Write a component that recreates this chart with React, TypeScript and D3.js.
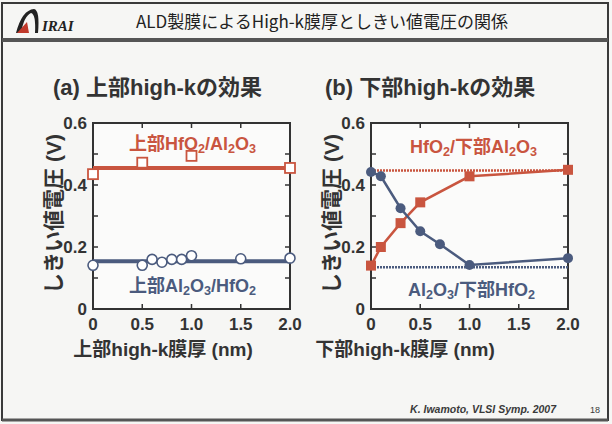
import React, { useEffect, useRef } from 'react';
import * as d3 from 'd3';

// (a) top high-k
const aRedX = [0, 0.5, 1.0, 2.0];
const aRedY = [0.435, 0.472, 0.494, 0.455];
const aRedFit = 0.455;
const aBlueX = [0, 0.5, 0.6, 0.7, 0.8, 0.9, 1.0, 1.5, 2.0];
const aBlueY = [0.141, 0.141, 0.16, 0.151, 0.16, 0.16, 0.172, 0.162, 0.164];
const aBlueFit = 0.154;

// (b) bottom high-k
const bRedX = [0, 0.1, 0.3, 0.5, 1.0, 2.0];
const bRedY = [0.14, 0.2, 0.277, 0.344, 0.428, 0.449];
const bRedRef = 0.447;
const bBlueX = [0, 0.1, 0.3, 0.5, 0.7, 1.0, 2.0];
const bBlueY = [0.442, 0.428, 0.325, 0.251, 0.209, 0.142, 0.164];
const bBlueRef = 0.135;

const yTicks = [0, 0.2, 0.4, 0.6];
const yTickLabels = ['0', '0.2', '0.4', '0.6'];
const xTicks = [0, 0.5, 1.0, 1.5, 2.0];
const xTickLabels = ['0', '0.5', '1.0', '1.5', '2.0'];

const RED = '#c9553f';
const BLUE = '#4b5b7e';
const FONT = '"Liberation Sans", Arial, "Noto Sans CJK JP", sans-serif';

type Part = { t: string; sub?: boolean };

export default function App() {
  const svgRef = useRef<SVGSVGElement>(null);

  useEffect(() => {
    const svg = d3.select(svgRef.current);
    svg.selectAll('*').remove();

    // slide background and frame
    svg.append('rect').attr('x', 0).attr('y', 0).attr('width', 612).attr('height', 424).attr('fill', '#f6f6f4');
    svg.append('rect').attr('x', 2).attr('y', 3).attr('width', 606).attr('height', 417)
      .attr('fill', 'none').attr('stroke', '#3a3a3a').attr('stroke-width', 2);
    svg.append('rect').attr('x', 2).attr('y', 38).attr('width', 606).attr('height', 4).attr('fill', '#555');
    svg.append('line').attr('x1', 2).attr('x2', 608).attr('y1', 420).attr('y2', 420)
      .attr('stroke', '#555').attr('stroke-width', 3);

    // logo
    svg.append('path').attr('d', 'M16,33 Q22,10 34,9 Q40,10 38,33 L35,33 Q36,14 31,13 Q24,16 21,33 Z').attr('fill', '#222');
    svg.append('path').attr('d', 'M17,33 L27,22 L29,33 Z').attr('fill', '#c0392b');
    svg.append('text').attr('x', 42).attr('y', 31).attr('font-family', '"Liberation Serif", serif')
      .attr('font-style', 'italic').attr('font-weight', 'bold').attr('font-size', 15).attr('fill', '#222').text('IRAI');

    svg.append('text').attr('x', 322).attr('y', 28).attr('text-anchor', 'middle')
      .attr('font-family', '"Noto Sans CJK JP", sans-serif').attr('font-size', 17).attr('fill', '#222')
      .text('ALD製膜によるHigh-k膜厚としきい値電圧の関係');

    const rich = (g: any, x: number, y: number, parts: Part[], color: string, size: number, anchor = 'start') => {
      const t = g.append('text').attr('x', x).attr('y', y).attr('font-family', FONT).attr('font-weight', 'bold')
        .attr('font-size', size).attr('fill', color).attr('text-anchor', anchor);
      parts.forEach(p => {
        const s = t.append('tspan').text(p.t);
        if (p.sub) s.attr('font-size', size * 0.7).attr('baseline-shift', '-25%');
      });
      return t;
    };

    const panel = (x0: number, x1: number, opts: any) => {
      const x = d3.scaleLinear().domain([0, 2]).range([x0, x1]);
      const y = d3.scaleLinear().domain([0, 0.6]).range([309, 123]);
      const g = svg.append('g');
      g.append('rect').attr('x', x0).attr('y', 123).attr('width', x1 - x0).attr('height', 186)
        .attr('fill', '#fbfbfa').attr('stroke', '#333').attr('stroke-width', 2);

      // ticks inward
      d3.range(0.1, 0.6, 0.1).forEach(v => {
        g.append('line').attr('x1', x0).attr('x2', x0 + 5).attr('y1', y(v)).attr('y2', y(v)).attr('stroke', '#333').attr('stroke-width', 1.5);
        g.append('line').attr('x1', x1).attr('x2', x1 - 5).attr('y1', y(v)).attr('y2', y(v)).attr('stroke', '#333').attr('stroke-width', 1.5);
      });
      [0.5, 1.0, 1.5].forEach(v => {
        g.append('line').attr('x1', x(v)).attr('x2', x(v)).attr('y1', 309).attr('y2', 304).attr('stroke', '#333').attr('stroke-width', 1.5);
        g.append('line').attr('x1', x(v)).attr('x2', x(v)).attr('y1', 123).attr('y2', 128).attr('stroke', '#333').attr('stroke-width', 1.5);
      });

      yTicks.forEach((v, i) => {
        g.append('text').attr('x', x0 - 6).attr('y', y(v) + 6).attr('text-anchor', 'end')
          .attr('font-family', FONT).attr('font-weight', 'bold').attr('font-size', 17).attr('fill', '#333')
          .text(yTickLabels[i]);
      });
      xTicks.forEach((v, i) => {
        g.append('text').attr('x', x(v)).attr('y', 330).attr('text-anchor', 'middle')
          .attr('font-family', FONT).attr('font-weight', 'bold').attr('font-size', 17).attr('fill', '#333')
          .text(xTickLabels[i]);
      });

      g.append('text').attr('transform', `translate(${x0 - 32},214) rotate(-90)`).attr('text-anchor', 'middle')
        .attr('font-family', FONT).attr('font-weight', 'bold').attr('font-size', 21).attr('fill', '#333')
        .text('しきい値電圧 (V)');
      g.append('text').attr('x', opts.xTitleX).attr('y', 356).attr('text-anchor', 'middle')
        .attr('font-family', FONT).attr('font-weight', 'bold').attr('font-size', 19).attr('fill', '#333')
        .text(opts.xTitle);
      g.append('text').attr('x', opts.titleX).attr('y', 95)
        .attr('font-family', FONT).attr('font-weight', 'bold').attr('font-size', 22).attr('fill', '#333')
        .text(opts.title);
      return { g, x, y };
    };

    // ---- panel (a)
    const A = panel(93, 290, { title: '(a) 上部high-kの効果', titleX: 53, xTitle: '上部high-k膜厚 (nm)', xTitleX: 163 });
    A.g.append('line').attr('x1', A.x(0)).attr('x2', A.x(2)).attr('y1', A.y(aRedFit)).attr('y2', A.y(aRedFit))
      .attr('stroke', RED).attr('stroke-width', 4);
    A.g.append('line').attr('x1', A.x(0)).attr('x2', A.x(2)).attr('y1', A.y(aBlueFit)).attr('y2', A.y(aBlueFit))
      .attr('stroke', BLUE).attr('stroke-width', 4);
    aRedX.forEach((v, i) => {
      A.g.append('rect').attr('x', A.x(v) - 5).attr('y', A.y(aRedY[i]) - 5).attr('width', 10).attr('height', 10)
        .attr('fill', '#fff').attr('stroke', RED).attr('stroke-width', 1.8);
    });
    aBlueX.forEach((v, i) => {
      A.g.append('circle').attr('cx', A.x(v)).attr('cy', A.y(aBlueY[i])).attr('r', 5)
        .attr('fill', '#fff').attr('stroke', BLUE).attr('stroke-width', 1.6);
    });
    rich(A.g, 129, 150, [{ t: '上部HfO' }, { t: '2', sub: true }, { t: '/Al' }, { t: '2', sub: true }, { t: 'O' }, { t: '3', sub: true }], RED, 18);
    rich(A.g, 129, 292, [{ t: '上部Al' }, { t: '2', sub: true }, { t: 'O' }, { t: '3', sub: true }, { t: '/HfO' }, { t: '2', sub: true }], BLUE, 18);

    // ---- panel (b)
    const B = panel(371, 568, { title: '(b) 下部high-kの効果', titleX: 325, xTitle: '下部high-k膜厚 (nm)', xTitleX: 405 });
    B.g.append('line').attr('x1', B.x(0)).attr('x2', B.x(2)).attr('y1', B.y(bRedRef)).attr('y2', B.y(bRedRef))
      .attr('stroke', RED).attr('stroke-width', 2.5).attr('stroke-dasharray', '2,1');
    B.g.append('line').attr('x1', B.x(0)).attr('x2', B.x(2)).attr('y1', B.y(bBlueRef)).attr('y2', B.y(bBlueRef))
      .attr('stroke', BLUE).attr('stroke-width', 2.5).attr('stroke-dasharray', '2,1');
    const lineR = d3.line<number>().x((d, i) => B.x(bRedX[i])).y(d => B.y(d));
    B.g.append('path').attr('d', lineR(bRedY)).attr('fill', 'none').attr('stroke', RED).attr('stroke-width', 2.5);
    const lineB = d3.line<number>().x((d, i) => B.x(bBlueX[i])).y(d => B.y(d));
    B.g.append('path').attr('d', lineB(bBlueY)).attr('fill', 'none').attr('stroke', BLUE).attr('stroke-width', 2.5);
    bRedX.forEach((v, i) => {
      B.g.append('rect').attr('x', B.x(v) - 5).attr('y', B.y(bRedY[i]) - 5).attr('width', 10).attr('height', 10)
        .attr('fill', RED);
    });
    bBlueX.forEach((v, i) => {
      B.g.append('circle').attr('cx', B.x(v)).attr('cy', B.y(bBlueY[i])).attr('r', 5).attr('fill', BLUE);
    });
    rich(B.g, 410, 153, [{ t: 'HfO' }, { t: '2', sub: true }, { t: '/下部Al' }, { t: '2', sub: true }, { t: 'O' }, { t: '3', sub: true }], RED, 18);
    rich(B.g, 408, 296, [{ t: 'Al' }, { t: '2', sub: true }, { t: 'O' }, { t: '3', sub: true }, { t: '/下部HfO' }, { t: '2', sub: true }], BLUE, 18);

    // footer
    svg.append('text').attr('x', 556).attr('y', 413).attr('text-anchor', 'end').attr('font-family', FONT)
      .attr('font-style', 'italic').attr('font-weight', 'bold').attr('font-size', 10.5).attr('fill', '#3a3a3a')
      .text('K. Iwamoto, VLSI Symp. 2007');
    svg.append('text').attr('x', 590).attr('y', 413).attr('font-family', FONT)
      .attr('font-size', 9).attr('fill', '#3a3a3a').text('18');
  }, []);

  return (
    <svg ref={svgRef} width={612} height={424} style={{ position: 'absolute', left: 0, top: 0 }} />
  );
}
